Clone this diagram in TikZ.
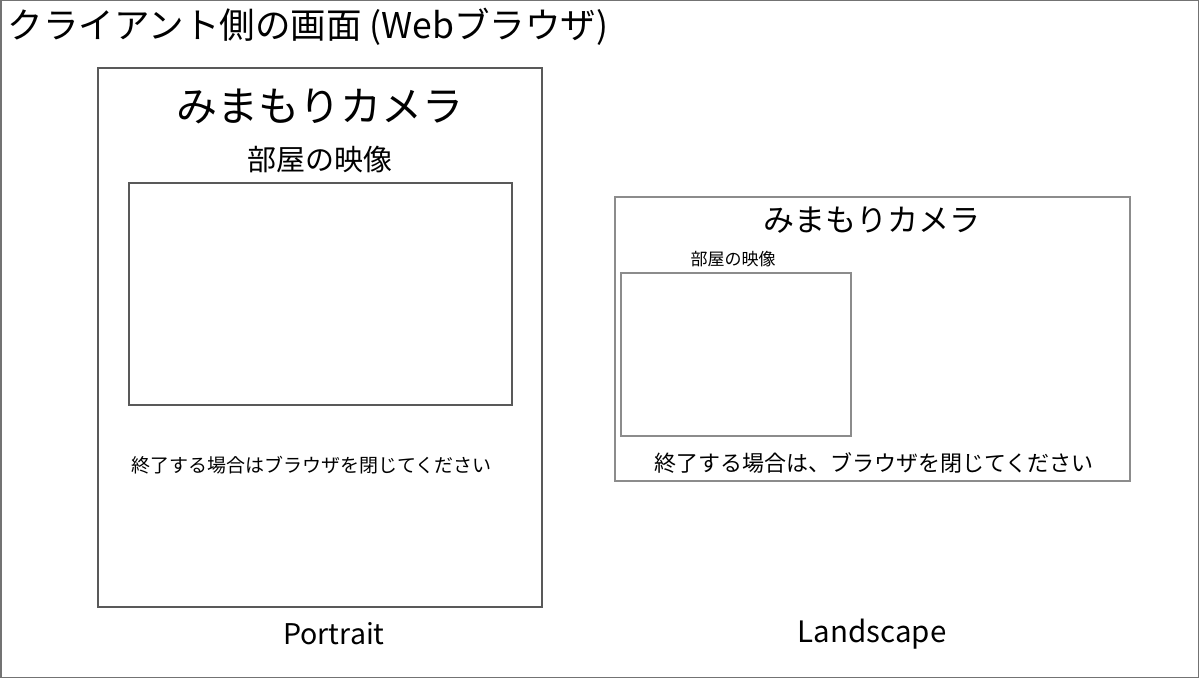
\documentclass[tikz,border=0pt]{standalone}
\usepackage{fontspec}
\setmainfont{Noto Sans CJK JP}
\begin{document}
\begin{tikzpicture}[x=1pt,y=-1pt,
  txt/.style={inner sep=0pt, outer sep=0pt, text=black},
  darkframe/.style={draw=black!65, line width=1.1pt},
  lightframe/.style={draw=black!45, line width=1.1pt}]
\useasboundingbox (0,0) rectangle (1200,679);
\fill[white] (0,0) rectangle (1200,679);
\draw[draw=black!55, line width=1.5pt] (0.75,0.75) rectangle (1198.5,677.5);
\node[txt, anchor=west] (title) at (8,27) {\fontsize{35.5}{35.5}\selectfont クライアント側の画面 (Webブラウザ)};
% Portrait
\draw[darkframe] (98,68) rectangle (542,607);
\node[txt] (ptitle) at (320,106) {\fontsize{41}{41}\selectfont みまもりカメラ};
\node[txt] (pcap) at (320,160) {\fontsize{29}{29}\selectfont 部屋の映像};
\draw[darkframe] (129,183) rectangle (512,405);
\node[txt, anchor=west] (pend) at (131,465) {\fontsize{19}{19}\selectfont 終了する場合はブラウザを閉じてください};
\node[txt] (plabel) at (334,634) {\fontsize{28.5}{28.5}\selectfont Portrait};
% Landscape
\draw[lightframe] (615,197) rectangle (1130,481);
\node[txt] (ltitle) at (872,220) {\fontsize{31}{31}\selectfont みまもりカメラ};
\node[txt] (lcap) at (733,259) {\fontsize{17}{17}\selectfont 部屋の映像};
\draw[lightframe] (621,273) rectangle (851,436);
\node[txt] (lend) at (874,463) {\fontsize{22}{22}\selectfont 終了する場合は、ブラウザを閉じてください};
\node[txt] (llabel) at (872,634) {\fontsize{29.5}{29.5}\selectfont Landscape};
\end{tikzpicture}
\end{document}
